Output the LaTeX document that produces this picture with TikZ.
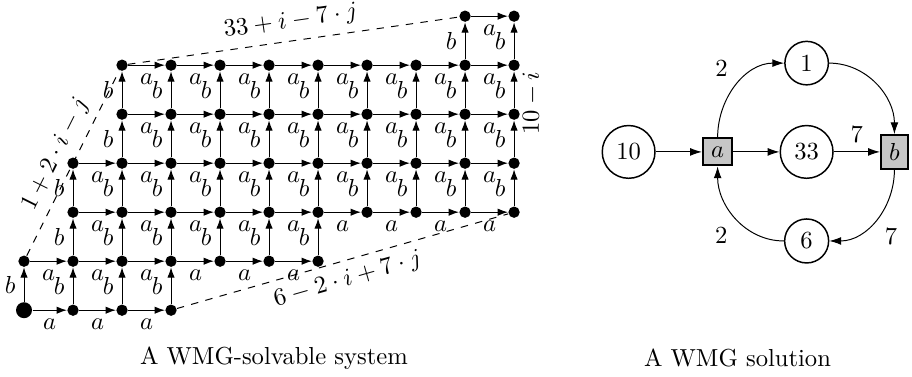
\documentclass[tikz,border=0pt]{standalone}
\usepackage{amsmath,amssymb}
\usepackage{xcolor}
\usepackage{tikz}
\usetikzlibrary{arrows.meta,shapes.geometric,positioning,calc}

\begin{document}
\begin{tikzpicture}[
  x=0.7cm, y=0.7cm,
  dot/.style={circle, fill, inner sep=0pt, minimum size=4.6pt},
  bigdot/.style={circle, fill, inner sep=0pt, minimum size=6.5pt},
  place/.style={draw, circle, semithick},
  trans/.style={draw, thick, fill=gray!45},
  arr/.style={-{Latex[length=4.2pt,width=3pt]}},
  warr/.style={-{Latex[length=4.8pt,width=3.2pt]}},
]
\useasboundingbox (-0.49,-1.35) rectangle (18.12,6.33);
% the system
\node[bigdot] (n-0-0) at (0,0) {};
\foreach \rr/\s/\e in {0/1/3, 1/0/6, 2/1/10, 3/1/10, 4/2/10, 5/2/10, 6/9/10}
  \foreach \cc in {\s,...,\e}
    \node[dot] (n-\cc-\rr) at (\cc,\rr) {};
\foreach \rr/\s/\e in {0/0/2, 1/0/5, 2/1/9, 3/1/9, 4/2/9, 5/2/9, 6/9/9}
  \foreach \cc in {\s,...,\e} {
    \pgfmathtruncatemacro\nc{\cc+1}
    \draw[arr] (n-\cc-\rr) -- node[below] {$a$} (n-\nc-\rr);
  }
\foreach \cc/\s/\e in {0/0/0, 1/0/2, 2/0/4, 3/0/4, 4/1/4, 5/1/4, 6/1/4, 7/2/4, 8/2/4, 9/2/5, 10/2/5}
  \foreach \rr in {\s,...,\e} {
    \pgfmathtruncatemacro\nr{\rr+1}
    \draw[arr] (n-\cc-\rr) -- node[left] {$b$} (n-\cc-\nr);
  }
% bounds
\draw[dashed] (n-0-1) -- node[above, sloped] {$1+2\cdot i-j$} (n-2-5);
\draw[dashed] (n-2-5) -- node[above, sloped] {$33+i-7\cdot j$} (n-9-6);
\draw[dashed] (n-3-0) -- node[below, sloped] {$6-2\cdot i+7\cdot j$} (n-10-2);
\path (n-10-2) -- node[pos=0.56, below, sloped] {$10-i$} (n-10-6);
% the solution
\node[place] (p33) at (15.97,3.23) {33};
\node[trans, left=0.66cm of p33] (ta) {$a$};
\node[place, left=0.66cm of ta] (p10) {10};
\node[trans, right=0.66cm of p33] (tb) {$b$};
\node[place, above=0.56cm of p33] (p1) {1};
\node[place, below=0.56cm of p33] (p6) {6};
\draw[warr] (p10) -- (ta);
\draw[warr] (ta) -- (p33);
\draw[warr] (p33) -- node[above] {7} (tb);
\draw[warr] (ta) to[out=90, in=180] node[above left] {2} (p1);
\draw[warr] (p1) to[out=0, in=90] (tb);
\draw[warr] (tb) to[out=-90, in=0] node[below right] {7} (p6);
\draw[warr] (p6) to[out=180, in=-90] node[below left] {2} (ta);
% captions
\node (cap1) at (5.1,-0.98) {A WMG-solvable system};
\node (cap2) at (14.56,-0.98) {A WMG solution};
\end{tikzpicture}
\end{document}
